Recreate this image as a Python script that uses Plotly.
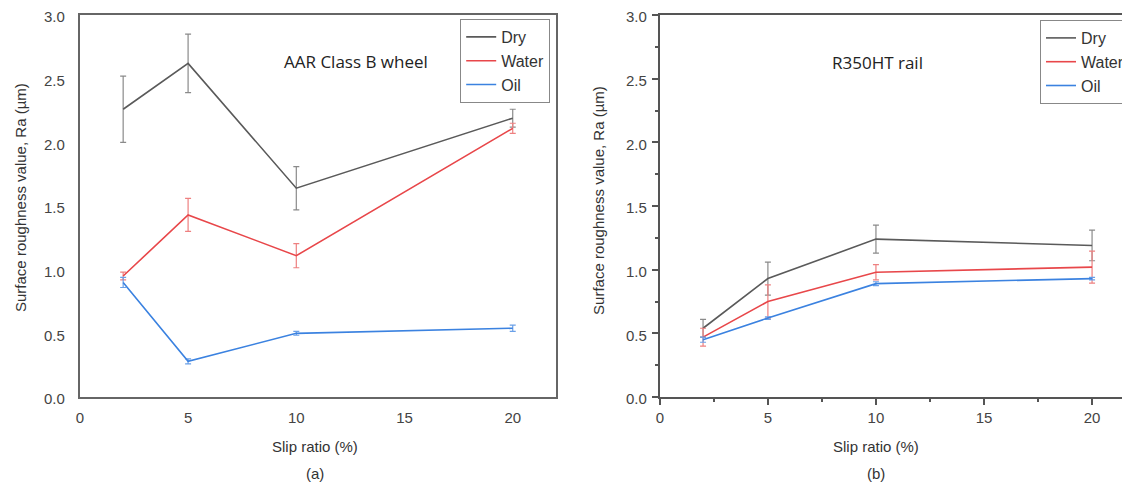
import plotly.graph_objects as go

slip = [2, 5, 10, 20]

# (a) AAR Class B wheel
a_dry = [2.26, 2.62, 1.64, 2.19]
a_dry_err = [0.26, 0.23, 0.17, 0.07]
a_water = [0.95, 1.43, 1.11, 2.11]
a_water_err = [0.03, 0.13, 0.095, 0.04]
a_oil = [0.90, 0.28, 0.50, 0.54]
a_oil_err = [0.04, 0.02, 0.015, 0.025]

# (b) R350HT rail
b_dry = [0.54, 0.93, 1.24, 1.19]
b_dry_err = [0.07, 0.13, 0.11, 0.12]
b_water = [0.47, 0.75, 0.98, 1.02]
b_water_err = [0.07, 0.13, 0.06, 0.125]
b_oil = [0.45, 0.62, 0.89, 0.93]
b_oil_err = [0.02, 0.01, 0.015, 0.01]

names = ["Dry", "Water", "Oil"]
colors = ["#5a5a5a", "#e8474a", "#3b82e0"]
err_colors = ["#8a8a8a", "#ee8080", "#6aa0e8"]

OFF = 8  # default page body margin
W, H = 1130 - OFF, 486 - OFF
def px(x): return (x - OFF) / W
def py(y): return 1 - (y - OFF) / H

fig = go.Figure()

sets = [
    ("x", "y", "legend", [(a_dry, a_dry_err), (a_water, a_water_err), (a_oil, a_oil_err)]),
    ("x2", "y2", "legend2", [(b_dry, b_dry_err), (b_water, b_water_err), (b_oil, b_oil_err)]),
]
for xa, ya, lg, series in sets:
    for (vals, errs), name, c, ec in zip(series, names, colors, err_colors):
        fig.add_trace(go.Scatter(
            x=slip, y=vals, mode="lines", name=name,
            line=dict(color=c, width=1.6),
            error_y=dict(type="data", array=errs, visible=True, color=ec, thickness=1.2, width=3),
            xaxis=xa, yaxis=ya, legend=lg,
        ))

tickfont = dict(family="Liberation Sans, Arial", size=15, color="#444")
ydom = [py(397), py(15)]

common = dict(showgrid=False, zeroline=False, showline=True, mirror=True,
              tickfont=tickfont, automargin=False, ticklabeloverflow="allow")

fig.update_layout(
    width=W, height=H, margin=dict(l=0, r=0, t=0, b=0),
    paper_bgcolor="white", plot_bgcolor="white",
    xaxis=dict(domain=[px(80), px(557)], range=[0, 22], tickvals=[0, 5, 10, 15, 20],
               linecolor="#666", linewidth=2, ticks="", ticklabelstandoff=6, anchor="y", **common),
    yaxis=dict(domain=ydom, range=[0, 3], tickvals=[0, 0.5, 1, 1.5, 2, 2.5, 3],
               tickformat=".1f", linecolor="#666", linewidth=2, ticks="", ticklabelstandoff=10,
               ticklabelshift=2, anchor="x", **common),
    xaxis2=dict(domain=[px(661), 1.0], range=[0, (1130 - 661) / 21.65], tickvals=[0, 5, 10, 15, 20],
                linecolor="#555", linewidth=2, ticks="outside", ticklen=6, tickcolor="#555", tickwidth=1.5,
                minor=dict(tickvals=[2.5, 7.5, 12.5, 17.5], ticks="outside", ticklen=3, tickcolor="#555"),
                ticklabelstandoff=0, anchor="y2", **common),
    yaxis2=dict(domain=ydom, range=[0, 3], tickvals=[0, 0.5, 1, 1.5, 2, 2.5, 3],
                tickformat=".1f", linecolor="#555", linewidth=2, ticks="outside", ticklen=6,
                tickcolor="#555", tickwidth=1.5,
                minor=dict(tickvals=[0.25, 0.75, 1.25, 1.75, 2.25, 2.75], ticks="outside", ticklen=3, tickcolor="#555"),
                ticklabelstandoff=2, ticklabelshift=2, anchor="x2", **common),
    legend=dict(x=px(461), y=py(19), xanchor="left", yanchor="top",
                bordercolor="#888", borderwidth=1, bgcolor="white",
                font=dict(family="Liberation Sans, Arial", size=16, color="#333"),
                tracegroupgap=0, itemwidth=30),
    legend2=dict(x=px(1042), y=py(20), xanchor="left", yanchor="top",
                 bordercolor="#888", borderwidth=1, bgcolor="white",
                 font=dict(family="Liberation Sans, Arial", size=16, color="#333"),
                 tracegroupgap=0, itemwidth=30),
    showlegend=True,
)

ann_font = dict(family="Open Sans", size=17, color="#222")
lab_font = dict(family="Liberation Sans, Arial", size=15, color="#333")
anns = [
    dict(x=px(357), y=py(61), text="AAR Class B wheel", font=ann_font),
    dict(x=px(879), y=py(62), text="R350HT rail", font=ann_font),
    dict(x=px(316), y=py(446), text="Slip ratio (%)", font=lab_font),
    dict(x=px(878), y=py(446), text="Slip ratio (%)", font=lab_font),
    dict(x=px(316), y=py(473), text="(a)", font=lab_font),
    dict(x=px(878), y=py(473), text="(b)", font=lab_font),
    dict(x=px(20), y=py(197), text="Surface roughness value, Ra (µm)", textangle=-90, font=lab_font),
    dict(x=px(600), y=py(200), text="Surface roughness value, Ra (µm)", textangle=-90, font=lab_font),
]
for a in anns:
    fig.add_annotation(xref="paper", yref="paper", showarrow=False, xanchor="center", yanchor="middle", **a)

fig.write_html("out.html")
